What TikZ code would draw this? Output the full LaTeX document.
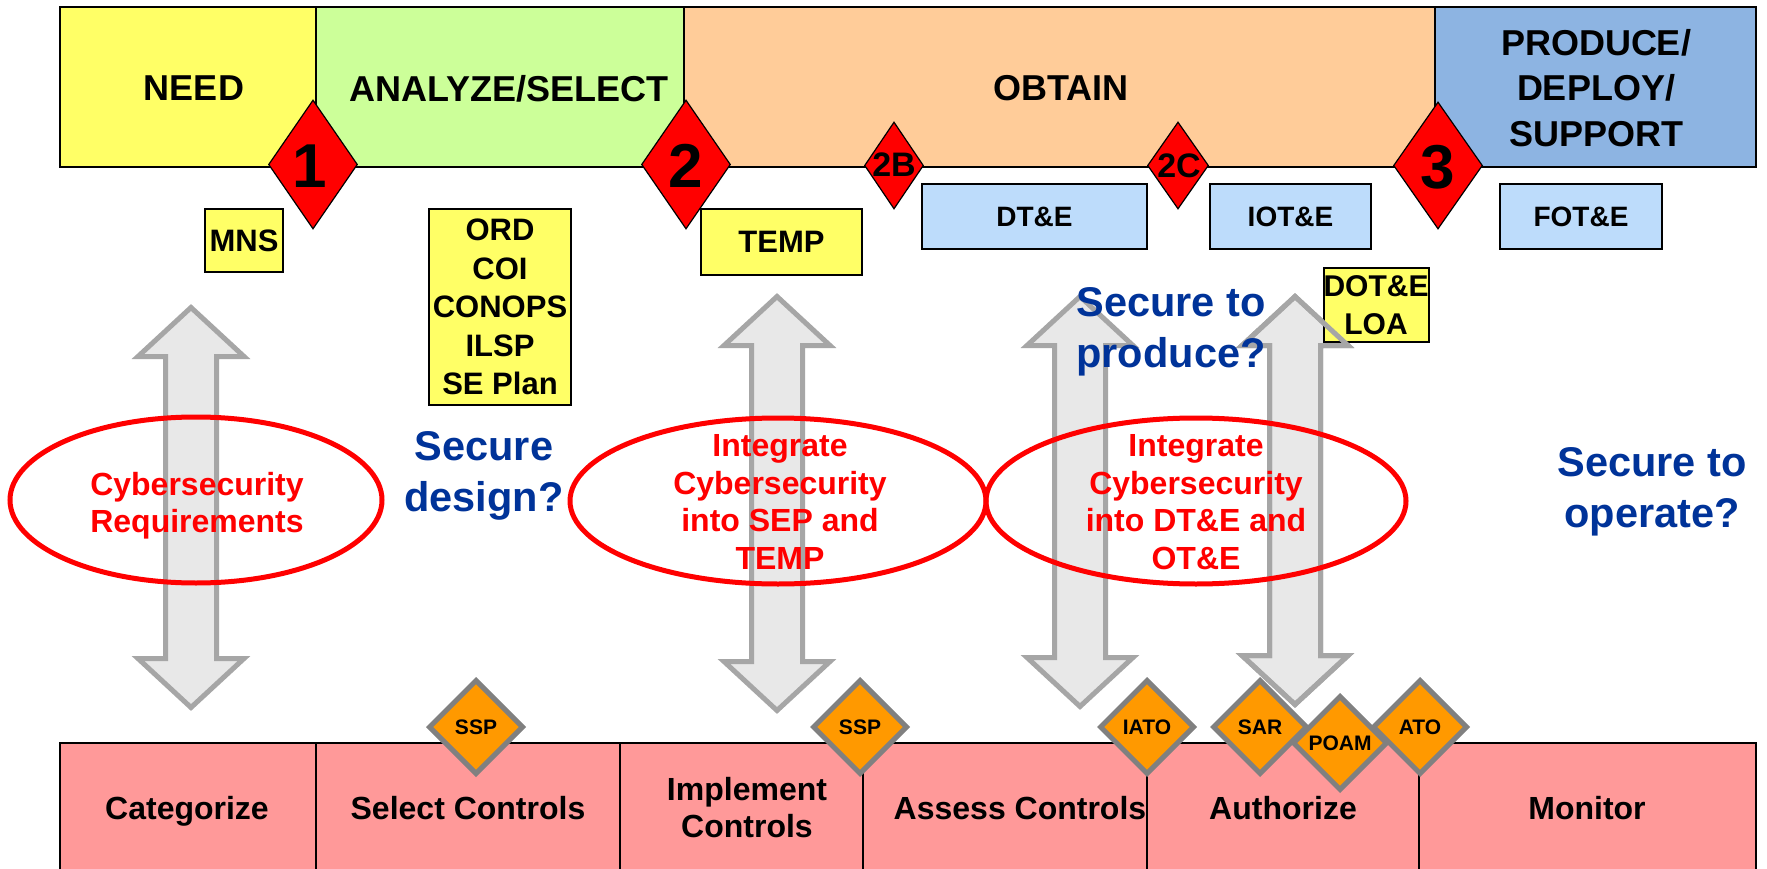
\documentclass[tikz,border=0pt]{standalone}
\usepackage{fontspec}
\setmainfont{Liberation Sans}
\usetikzlibrary{shapes.geometric}
\definecolor{cneed}{HTML}{FFFF66}
\definecolor{cana}{HTML}{CCFF99}
\definecolor{cobt}{HTML}{FFCC99}
\definecolor{cprod}{HTML}{8DB4E2}
\definecolor{clblue}{HTML}{BDDCFB}
\definecolor{cybox}{HTML}{FFFF66}
\definecolor{cbot}{HTML}{FF9999}
\definecolor{corange}{HTML}{FF9900}
\definecolor{cogray}{HTML}{808080}
\definecolor{cafill}{HTML}{E8E8E8}
\definecolor{caline}{HTML}{A6A6A6}
\definecolor{cblue}{HTML}{003399}
\definecolor{cred}{HTML}{FF0000}
\newcommand{\myfs}[2]{\fontsize{#1}{#2}\selectfont\bfseries}
\newcommand{\grayarrow}[4][]{%
  \draw[garrow,#1] (#2,#3) -- ++(53,49) -- ++(-27.5,0) -- ({#2+25.5},{#4-49}) -- ++(27.5,0) -- (#2,#4)
   -- ++(-53,-49) -- ++(27.5,0) -- ({#2-25.5},{#3+49}) -- ++(-27.5,0) -- cycle;}
\begin{document}
\begin{tikzpicture}[x=1pt,y=-1pt,
  txt/.style={inner sep=0pt, text depth=0pt, align=center},
  toplbl/.style={txt, font=\myfs{36}{45.5}},
  numtxt/.style={txt, font=\myfs{62}{70}},
  smnum/.style={txt, font=\myfs{34}{40}},
  phase/.style={draw=black, line width=2.5},
  rdiam/.style={shape=diamond, draw=black, line width=1.2, fill=cred, inner sep=0pt},
  lbbox/.style={draw=black, line width=2, fill=clblue, inner sep=0pt, text depth=0pt, align=center, font=\myfs{28}{34}},
  ybox/.style={draw=black, line width=2, fill=cybox, inner sep=0pt, text depth=0pt, align=center, font=\myfs{31}{38.5}},
  cell/.style={draw=black, line width=2, fill=cbot},
  celltxt/.style={txt, font=\myfs{32}{37}},
  odiam/.style={shape=diamond, draw=cogray, line width=5, fill=corange, minimum width=95, minimum height=95,
    inner sep=0pt, text depth=0pt, font=\myfs{21}{25}, line join=miter},
  garrow/.style={fill=cafill, draw=caline, line width=5, line join=miter},
  redell/.style={draw=cred, line width=5},
  redtxt/.style={txt, text=cred, font=\myfs{32}{37.8}},
  bluetxt/.style={txt, text=cblue, font=\myfs{41.5}{51}}
]
\useasboundingbox (0,0) rectangle (1767,869);
\fill[white] (0,0) rectangle (1767,869);

% ---- top phase bar
\draw[phase, fill=cneed] (60,7) rectangle (316,167);
\draw[phase, fill=cana] (316,7) rectangle (684,167);
\draw[phase, fill=cobt] (684,7) rectangle (1435,167);
\draw[phase, fill=cprod] (1435,7) rectangle (1756,167);
\node[toplbl] (need) at (194,88) {NEED};
\node[toplbl] (analyze) at (509,88) {ANALYZE/SELECT};
\node[toplbl] (obtain) at (1061,88) {OBTAIN};
\node[toplbl] (produce) at (1596,87.5) {PRODUCE/\\DEPLOY/\\SUPPORT};

% ---- milestones
\node[rdiam, minimum width=89, minimum height=129] (d1) at (313,164.5) {};
\node[rdiam, minimum width=89, minimum height=129] (d2) at (686,164.5) {};
\node[rdiam, minimum width=89, minimum height=127] (d3) at (1438,165.5) {};
\node[rdiam, minimum width=59, minimum height=87] (d2b) at (894,165.5) {};
\node[rdiam, minimum width=61, minimum height=87] (d2c) at (1178,165.5) {};
\node[numtxt] (n1) at (310,166) {1};
\node[numtxt] (n2) at (686,166) {2};
\node[numtxt] (n3) at (1438,167) {3};
\node[smnum] (n2b) at (894,165) {2B};
\node[smnum] (n2c) at (1179,166) {2C};

% ---- document boxes
\node[ybox, minimum width=78, minimum height=63] (mns) at (244,240.5) {MNS};
\node[ybox, minimum width=142, minimum height=195] (ord) at (500,307) {ORD\\COI\\CONOPS\\ILSP\\SE Plan};
\node[ybox, minimum width=161, minimum height=66] (temp) at (781.5,242) {TEMP};
\node[lbbox, minimum width=225, minimum height=65] (dte) at (1034.5,216.5) {DT\&E};
\node[lbbox, minimum width=161, minimum height=65] (iote) at (1290.5,216.5) {IOT\&E};
\node[lbbox, minimum width=162, minimum height=65] (fote) at (1581,216.5) {FOT\&E};

% ---- bottom RMF bar
\draw[cell] (60,743) rectangle (316,885);
\draw[cell] (316,743) rectangle (620,885);
\draw[cell] (620,743) rectangle (863,885);
\draw[cell] (863,743) rectangle (1147,885);
\draw[cell] (1147,743) rectangle (1419,885);
\draw[cell] (1419,743) rectangle (1756,885);
\node[celltxt] (cat) at (187,808) {Categorize};
\node[celltxt] (sel) at (468,808) {Select Controls};
\node[celltxt] (imp) at (747,807.5) {Implement\\Controls};
\node[celltxt] (ass) at (1020,808) {Assess Controls};
\node[celltxt] (aut) at (1283,808) {Authorize};
\node[celltxt] (mon) at (1587,808) {Monitor};

% ---- artifacts (lower diamonds)
\node[odiam] (ssp1) at (476,727) {SSP};
\node[odiam] (ssp2) at (860,727) {SSP};
\node[odiam] (iato) at (1147,727) {IATO};
\node[odiam] (sar) at (1260,727) {SAR};

% ---- double arrows
\grayarrow{191}{307.5}{707.5}
\grayarrow{777}{296.5}{710.5}
\grayarrow{1080}{296.5}{706.5}
\grayarrow{1295}{296.5}{704.5}

\node[ybox, minimum width=102, minimum height=74, font=\myfs{30}{38}] (dote) at (1376,305) {DOT\&E\\LOA};
\grayarrow[fill=none]{1295}{296.5}{704.5}

\node[odiam] (poam) at (1340,743) {POAM};
\node[odiam] (ato) at (1420,727) {ATO};

% ---- ellipses
\draw[redell] (196,500) ellipse [x radius=186, y radius=83];
\draw[redell] (778,501) ellipse [x radius=208, y radius=83];
\draw[redell] (1196,501) ellipse [x radius=210, y radius=83];
\node[redtxt] (e1t) at (197,502.5) {Cybersecurity\\Requirements};
\node[redtxt] (e2t) at (780,502) {Integrate\\Cybersecurity\\into SEP and\\TEMP};
\node[redtxt] (e3t) at (1196,502) {Integrate\\Cybersecurity\\into DT\&E and\\OT\&E};

% ---- questions
\node[bluetxt] (q1) at (484,471.5) {Secure\\design?};
\node[bluetxt] (q2) at (1171,327.5) {Secure to\\produce?};
\node[bluetxt] (q3) at (1652,488) {Secure to\\operate?};
\end{tikzpicture}
\end{document}
